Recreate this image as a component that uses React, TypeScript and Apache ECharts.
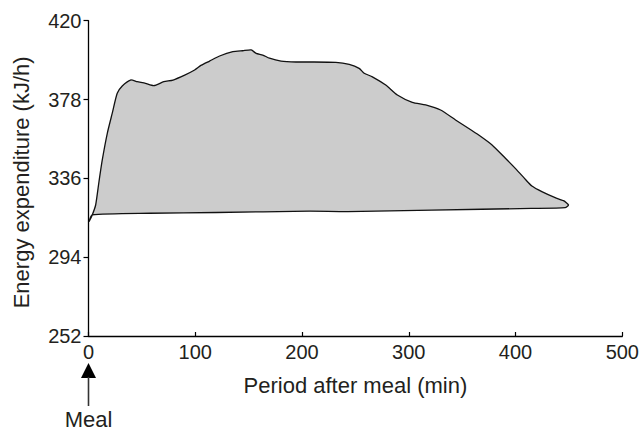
import React, { useEffect, useRef } from "react";
import * as echarts from "echarts";

// Upper contour of the shaded region (time in min, energy in kJ/h)
const upperTime = [0.5, 3.5, 6.7, 9.8, 12.9, 17.6, 22.2, 26.9, 31.6, 39.4, 45.6, 53.4, 61.2, 70.5, 79.2, 90.1, 99.4, 105.7, 113.4, 122.8, 135.2, 144.5, 152.4, 157, 163.2, 169.5, 180.4, 194.4, 206.8, 231.7, 244.2, 253.5, 258.2, 265.9, 278.4, 289.3, 303.3, 315.8, 329.8, 343.8, 356.2, 365.5, 378, 390.5, 401.3, 409.1, 415.3, 424.6, 437.1, 444.9, 449.6];
const upperEnergy = [312.9, 316.5, 321.8, 334.2, 345.8, 360, 370.6, 381.3, 385.2, 388.4, 387.5, 386.6, 385.4, 387.5, 388.4, 391, 393.7, 396.3, 398.5, 401.2, 403.5, 404, 404.4, 402.6, 401.7, 400, 398.5, 398, 398, 397.8, 396.7, 394.6, 392, 390.1, 385.7, 380.4, 376.5, 375.1, 372.4, 367.1, 362.6, 359.1, 353.8, 346.7, 340.4, 335.5, 331.9, 328.9, 325.7, 324.1, 321.8];

// Lower (baseline) contour
const lowerTime = [3.5, 57.5, 120, 206.8, 243, 321.7, 415, 446.5];
const lowerEnergy = [316.5, 317.4, 317.8, 318.5, 318.3, 319.1, 320, 320.4];

const xTicks = [0, 100, 200, 300, 400, 500];
const yTicks = [252, 294, 336, 378, 420];

const FONT = '"Liberation Sans", Arial, Helvetica, sans-serif';
const TEXT = "#231f20";

export default function App() {
  const ref = useRef<HTMLDivElement>(null);
  useEffect(() => {
    if (!ref.current) return;
    const chart = echarts.init(ref.current, undefined, { renderer: "svg" });
    const option: any = {
      animation: false,
      backgroundColor: "#ffffff",
      grid: { left: 88.5, right: 18, top: 20.7, bottom: 95, containLabel: false },
      xAxis: {
        type: "value",
        min: xTicks[0],
        max: xTicks[xTicks.length - 1],
        interval: 100,
        name: "Period after meal (min)",
        nameLocation: "middle",
        nameGap: 38,
        nameTextStyle: { fontSize: 22, color: TEXT, fontFamily: FONT },
        axisLine: { show: true, onZero: false, lineStyle: { color: "#000", width: 1.3 } },
        axisTick: { show: true, inside: true, length: 4, lineStyle: { color: "#000", width: 1.2 } },
        axisLabel: { fontSize: 20, color: TEXT, fontFamily: FONT, margin: 6 },
        splitLine: { show: false },
      },
      yAxis: {
        type: "value",
        min: yTicks[0],
        max: yTicks[yTicks.length - 1],
        interval: 42,
        name: "Energy expenditure (kJ/h)",
        nameLocation: "middle",
        nameGap: 56,
        nameRotate: 90,
        nameTextStyle: { fontSize: 22, color: TEXT, fontFamily: FONT, padding: [0, 8, 0, 0] },
        axisLine: { show: true, onZero: false, lineStyle: { color: "#000", width: 1.3 } },
        axisTick: { show: true, inside: false, length: 5, lineStyle: { color: "#000", width: 1.2 } },
        axisLabel: { fontSize: 20, color: TEXT, fontFamily: FONT, margin: 7 },
        splitLine: { show: false },
      },
      series: [
        {
          type: "custom",
          data: [[upperTime[0], upperEnergy[0]]],
          clip: false,
          renderItem: (_params: any, api: any) => {
            const pts: number[][] = [];
            for (let i = 0; i < upperTime.length; i++) pts.push(api.coord([upperTime[i], upperEnergy[i]]));
            for (let i = lowerTime.length - 1; i >= 0; i--) pts.push(api.coord([lowerTime[i], lowerEnergy[i]]));
            return {
              type: "polygon",
              shape: { points: pts, smooth: 0.2 },
              style: { fill: "#cccccc", stroke: "#111111", lineWidth: 1.3 },
            };
          },
        },
      ],
    };
    chart.setOption(option);
    const px = chart.convertToPixel({ xAxisIndex: 0, yAxisIndex: 0 }, [0, 252]) as number[];
    const ax = px[0];
    const ay = px[1];
    chart.setOption({
      graphic: [
        {
          type: "polygon",
          shape: { points: [[ax, ay + 27], [ax - 7.5, ay + 42], [ax + 7.5, ay + 42]] },
          style: { fill: "#000" },
        },
        {
          type: "line",
          shape: { x1: ax, y1: ay + 41, x2: ax, y2: ay + 70 },
          style: { stroke: "#333", lineWidth: 1.6 },
        },
        {
          type: "text",
          x: ax,
          y: ay + 83.5,
          style: {
            text: "Meal",
            fontSize: 22,
            fontFamily: FONT,
            fill: TEXT,
            align: "center",
            verticalAlign: "middle",
          },
        },
      ],
    });
    return () => chart.dispose();
  }, []);
  return (
    <div
      ref={ref}
      style={{ position: "fixed", left: 0, top: 0, width: 642, height: 431 }}
    />
  );
}
